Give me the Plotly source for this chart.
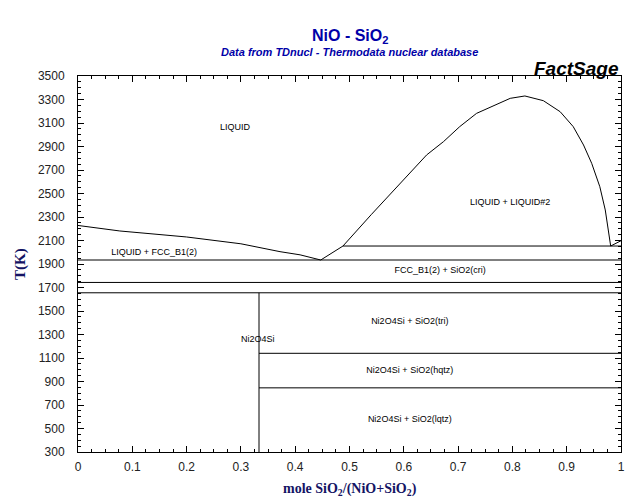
import plotly.graph_objects as go

# Liquidus (NiO side)
liq_left_x = [0, 0.077, 0.2, 0.3, 0.372, 0.409, 0.447]
liq_left_T = [2228, 2181, 2130, 2072, 2005, 1978, 1934]

# Liquidus SiO2 side + miscibility gap dome
dome_x = [0.447, 0.488, 0.540, 0.593, 0.642, 0.673, 0.703, 0.734, 0.771, 0.796,
          0.823, 0.857, 0.888, 0.912, 0.931, 0.946, 0.961, 0.971, 0.981]
dome_T = [1934, 2053, 2320, 2587, 2828, 2941, 3069, 3182, 3262, 3310,
          3330, 3290, 3196, 3069, 2913, 2757, 2558, 2360, 2053]

# SiO2 liquidus
sio2_x = [0.981, 1.0]
sio2_T = [2053, 2098]

# Invariant / transition lines
iso_T = [2053, 1934, 1743, 1655, 1140, 846]
iso_x0 = [0.488, 0, 0, 0, 1/3, 1/3]
iso_x1 = [1, 1, 1, 1, 1, 1]

# Compound Ni2SiO4
comp_x = [1/3, 1/3]
comp_T = [300, 1655]

# Region labels
lab_text = ["LIQUID", "LIQUID + FCC_B1(2)", "LIQUID + LIQUID#2", "FCC_B1(2) + SiO2(cri)",
            "Ni2O4Si + SiO2(tri)", "Ni2O4Si", "Ni2O4Si + SiO2(hqtz)", "Ni2O4Si + SiO2(lqtz)"]
lab_x = [0.289, 0.14, 0.796, 0.667, 0.611, 0.331, 0.611, 0.611]
lab_T = [3057, 1994, 2419, 1840, 1406, 1253, 989, 572]

y_ticks = list(range(300, 3501, 200))
x_ticks = [0, 0.1, 0.2, 0.3, 0.4, 0.5, 0.6, 0.7, 0.8, 0.9, 1]
x_tick_text = ["0", "0.1", "0.2", "0.3", "0.4", "0.5", "0.6", "0.7", "0.8", "0.9", "1"]

line = dict(color="black", width=1)
fig = go.Figure()
fig.add_trace(go.Scatter(x=liq_left_x, y=liq_left_T, mode="lines", line=line, hoverinfo="skip"))
fig.add_trace(go.Scatter(x=dome_x, y=dome_T, mode="lines", line=line, hoverinfo="skip"))
fig.add_trace(go.Scatter(x=sio2_x, y=sio2_T, mode="lines", line=line, hoverinfo="skip"))
for t, a, b in zip(iso_T, iso_x0, iso_x1):
    fig.add_trace(go.Scatter(x=[a, b], y=[t, t], mode="lines", line=line, hoverinfo="skip"))
fig.add_trace(go.Scatter(x=comp_x, y=comp_T, mode="lines", line=line, hoverinfo="skip"))
fig.add_trace(go.Scatter(x=lab_x, y=lab_T, mode="text", text=lab_text,
                         textfont=dict(family="Liberation Sans", size=9, color="black"),
                         hoverinfo="skip"))

fig.update_layout(
    width=640, height=504,
    margin=dict(l=78, r=19, t=76, b=52),
    plot_bgcolor="white", paper_bgcolor="white",
    showlegend=False,
    font=dict(family="Liberation Sans", size=12, color="#222"),
)
fig.update_xaxes(range=[0, 1], tickvals=x_ticks, ticktext=x_tick_text,
                 showgrid=False, zeroline=False, showline=True, linecolor="black", linewidth=1,
                 mirror="ticks", ticks="inside", ticklen=6, tickcolor="black",
                 ticklabelstandoff=4,
                 minor=dict(ticks="inside", dtick=0.025, ticklen=3, tickcolor="black"),
                 tickfont=dict(family="Liberation Sans", size=12, color="#222"))
fig.update_yaxes(range=[300, 3500], tickvals=y_ticks,
                 showgrid=False, zeroline=False, showline=True, linecolor="black", linewidth=1,
                 mirror="ticks", ticks="inside", ticklen=6, tickcolor="black",
                 ticklabelstandoff=10,
                 minor=dict(ticks="inside", dtick=50, ticklen=3, tickcolor="black"),
                 tickfont=dict(family="Liberation Sans", size=12, color="#222"))

blue = "#0000a8"
navy = "#141464"
fig.add_annotation(x=0.5, y=1.104, xref="paper", yref="paper", showarrow=False,
                   xanchor="center", yanchor="middle",
                   text="<b>NiO - SiO<sub>2</sub></b>",
                   font=dict(family="Liberation Sans", size=16, color=blue))
fig.add_annotation(x=0.5, y=1.064, xref="paper", yref="paper", showarrow=False,
                   xanchor="center", yanchor="middle",
                   text="<b><i>Data from TDnucl - Thermodata nuclear database</i></b>",
                   font=dict(family="Liberation Sans", size=11, color=blue))
fig.add_annotation(x=1.0, y=1.021, xref="paper", yref="paper", showarrow=False,
                   xanchor="right", yanchor="middle", text="<b><i>FactSage</i></b>",
                   font=dict(family="Liberation Sans", size=19, color="black"))
fig.add_annotation(x=0.5, y=-0.101, xref="paper", yref="paper", showarrow=False,
                   xanchor="center", yanchor="middle",
                   text="<b>mole SiO<sub>2</sub>/(NiO+SiO<sub>2</sub>)</b>",
                   font=dict(family="Liberation Serif", size=14, color=navy))
fig.add_annotation(x=-0.107, y=0.5, xref="paper", yref="paper", showarrow=False,
                   xanchor="center", yanchor="middle",
                   text="<b>T(K)</b>", textangle=-90,
                   font=dict(family="Liberation Serif", size=15, color=navy))

fig.write_html("out.html")
